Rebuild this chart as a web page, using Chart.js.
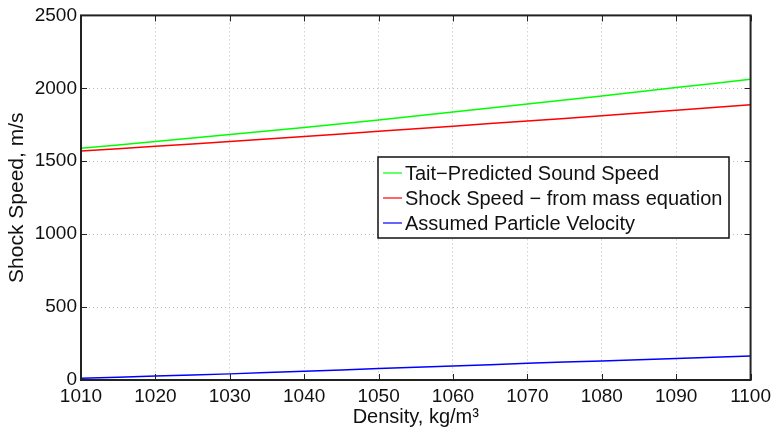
<!DOCTYPE html>
<html>
<head>
<meta charset="utf-8">
<script src="https://cdn.jsdelivr.net/npm/chart.js@4/dist/chart.umd.min.js"></script>
<style>
  html, body { margin: 0; padding: 0; background: #fff; }
  #wrap { width: 776px; height: 429px; }
</style>
</head>
<body>
<div id="wrap"><canvas id="shockChart" width="776" height="429"></canvas></div>
<script>
// densities, kg/m3
const density = [1010, 1020, 1030, 1040, 1050, 1060, 1070, 1080, 1090, 1100];
// speeds, m/s
const taitSound = [1589, 1635, 1683, 1731, 1783, 1838, 1892, 1948, 2005, 2062];
const shockSpeed = [1570, 1602, 1636, 1670, 1705, 1740, 1776, 1812, 1850, 1888];
const particleVel = [12, 27, 42, 60, 78, 96, 114, 131, 147, 164];
const seriesNames = ["Tait\u2212Predicted Sound Speed", "Shock Speed \u2212 from mass equation", "Assumed Particle Velocity"];
const xTicks = [1010, 1020, 1030, 1040, 1050, 1060, 1070, 1080, 1090, 1100];
const yTicks = [0, 500, 1000, 1500, 2000, 2500];

const FONT = "'Liberation Sans', Arial, sans-serif";

function toPoints(ys) {
    return density.map((d, i) => ({ x: d, y: ys[i] }));
}

// box, inward ticks and in-plot legend, the way matlab draws them
const matlabFrame = {
    id: "matlabFrame",
    afterDatasetsDraw(chart) {
        const ctx = chart.ctx;
        const a = chart.chartArea;
        const xs = chart.scales.x, ys = chart.scales.y;
        const tl = 6;
        ctx.save();
        ctx.strokeStyle = "#222";
        ctx.lineWidth = 1;
        xTicks.forEach(v => {
            const px = Math.round(xs.getPixelForValue(v)) + 0.5;
            ctx.beginPath();
            ctx.moveTo(px, a.bottom); ctx.lineTo(px, a.bottom - tl);
            ctx.moveTo(px, a.top); ctx.lineTo(px, a.top + tl);
            ctx.stroke();
        });
        yTicks.forEach(v => {
            const py = Math.round(ys.getPixelForValue(v)) + 0.5;
            ctx.beginPath();
            ctx.moveTo(a.left, py); ctx.lineTo(a.left + tl, py);
            ctx.moveTo(a.right, py); ctx.lineTo(a.right - tl, py);
            ctx.stroke();
        });
        ctx.lineWidth = 2;
        ctx.strokeStyle = "#222";
        ctx.strokeRect(a.left, a.top, a.right - a.left, a.bottom - a.top);

        // legend
        const lx = 378, ly = 157, lw = 351, lh = 81;
        ctx.fillStyle = "#fff";
        ctx.fillRect(lx, ly, lw, lh);
        ctx.lineWidth = 1.5;
        ctx.strokeStyle = "#111";
        ctx.strokeRect(lx, ly, lw, lh);
        ctx.font = "20px " + FONT;
        ctx.textBaseline = "middle";
        chart.data.datasets.forEach((ds, i) => {
            const y = ly + 16 + i * 25;
            ctx.strokeStyle = ds.borderColor;
            ctx.lineWidth = 1.2;
            ctx.beginPath();
            ctx.moveTo(lx + 5, y); ctx.lineTo(lx + 24, y);
            ctx.stroke();
            ctx.fillStyle = "#111";
            ctx.fillText(ds.label, lx + 27, y + 1);
        });
        ctx.restore();
    }
};

const ctx = document.getElementById("shockChart").getContext("2d");
new Chart(ctx, {
    type: "line",
    data: {
        datasets: [
            { label: seriesNames[0], data: toPoints(taitSound), borderColor: "#00ff00", borderWidth: 1.5, pointRadius: 0, tension: 0.3 },
            { label: seriesNames[1], data: toPoints(shockSpeed), borderColor: "#ff0000", borderWidth: 1.5, pointRadius: 0, tension: 0.3 },
            { label: seriesNames[2], data: toPoints(particleVel), borderColor: "#0000ff", borderWidth: 1.5, pointRadius: 0, tension: 0.3 }
        ]
    },
    options: {
        responsive: false,
        animation: false,
        layout: { padding: { top: 15, right: 25, bottom: 0, left: 0 } },
        plugins: { legend: { display: false }, tooltip: { enabled: false } },
        scales: {
            x: {
                type: "linear",
                min: 1010, max: 1100,
                afterBuildTicks(scale) { scale.ticks = xTicks.map(v => ({ value: v })); },
                afterFit(scale) { scale.height = 49; },
                grid: { color: "#bbb", borderDash: [1, 3], drawTicks: false, lineWidth: 1 },
                border: { display: false, dash: [1, 3] },
                ticks: { color: "#111", font: { family: FONT, size: 19 }, padding: 5, maxRotation: 0, callback: v => String(v) },
                title: { display: true, text: "Density, kg/m\u00b3", color: "#111", font: { family: FONT, size: 20 }, padding: { top: 0, bottom: 0 } }
            },
            y: {
                min: 0, max: 2500,
                afterBuildTicks(scale) { scale.ticks = yTicks.map(v => ({ value: v })); },
                afterFit(scale) { scale.width = 81; },
                grid: { color: "#bbb", borderDash: [1, 3], drawTicks: false, lineWidth: 1 },
                border: { display: false, dash: [1, 3] },
                ticks: { color: "#111", font: { family: FONT, size: 19 }, padding: 4, callback: v => String(v) },
                title: { display: true, text: "Shock Speed, m/s", color: "#111", font: { family: FONT, size: 21 }, padding: { top: 5, bottom: 0 } }
            }
        }
    },
    plugins: [matlabFrame]
});
</script>
</body>
</html>
